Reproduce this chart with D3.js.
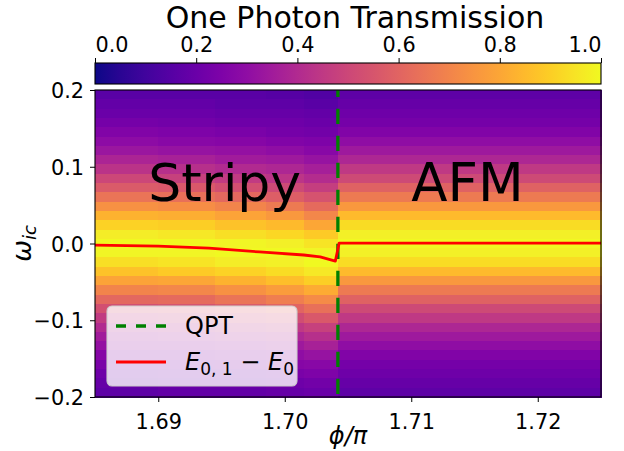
<!DOCTYPE html>
<html lang="en">
<head>
    <meta charset="UTF-8">
    <title>One Photon Transmission</title>
    <script src="https://d3js.org/d3.v7.min.js"></script>
    <style>
        body { margin: 0; background: white; }
        svg { font-family: "DejaVu Sans", sans-serif; }
    </style>
</head>
<body>
    <script>
        const width = 624;
        const height = 451;
        const margin = { top: 90, right: 23, bottom: 54, left: 95 };

        // heatmap: phi column groups and transmission per omega row (top row = +0.2)
        const colEdges = [1.685, 1.690, 1.6945, 1.6985, 1.7015, 1.7042, 1.725];
        const trans1 = [.16,.18,.20,.23,.26,.29,.33,.38,.43,.50,.57,.65,.74,.83,.91,.97,1.00,.99,.94,.87,.79,.70,.61,.53,.46,.40,.35,.31,.27,.24,.21,.19,.17];
        const trans2 = [.16,.18,.20,.22,.25,.28,.32,.37,.42,.48,.56,.64,.73,.82,.90,.96,1.00,.99,.95,.89,.80,.71,.62,.54,.47,.41,.36,.32,.28,.25,.22,.20,.18];
        const trans3 = [.16,.17,.19,.21,.24,.27,.31,.35,.40,.46,.53,.61,.70,.79,.87,.94,.99,1.00,.97,.91,.83,.74,.65,.57,.50,.43,.38,.33,.29,.26,.23,.20,.18];
        const trans4 = [.15,.17,.19,.21,.23,.26,.30,.34,.39,.44,.51,.58,.67,.76,.85,.92,.98,1.00,.98,.93,.86,.77,.68,.60,.52,.45,.39,.34,.30,.27,.24,.21,.19];
        const trans5 = [.14,.16,.18,.20,.22,.25,.28,.32,.36,.41,.47,.54,.62,.71,.80,.89,.95,.99,1.00,.96,.90,.81,.72,.64,.56,.48,.42,.37,.32,.28,.25,.22,.20];
        const transAFM = [.17,.19,.21,.23,.26,.30,.34,.39,.45,.51,.59,.67,.76,.85,.93,.98,1.00,.98,.93,.85,.76,.67,.59,.51,.45,.39,.34,.30,.26,.23,.21,.19,.17];
        const columns = [trans1, trans2, trans3, trans4, trans5, transAFM];

        // E_{0,1} - E_0 curve
        const linePhi = [1.685, 1.690, 1.694, 1.698, 1.7015, 1.7028, 1.7040, 1.7043, 1.7055, 1.725];
        const lineOmega = [-0.002, -0.0035, -0.006, -0.011, -0.015, -0.0175, -0.023, 0.0005, 0.0005, 0.0005];

        const qptPhi = 1.7042;
        const xTicks = [1.69, 1.70, 1.71, 1.72];
        const yTicks = [-0.2, -0.1, 0.0, 0.1, 0.2];
        const cbTicks = [0, 0.2, 0.4, 0.6, 0.8, 1.0];

        const x = d3.scaleLinear().domain([1.685, 1.725]).range([margin.left, width - margin.right]);
        const y = d3.scaleLinear().domain([-0.2, 0.2]).range([height - margin.bottom, margin.top]);
        const color = d3.scaleSequential(d3.interpolatePlasma).domain([0, 1]);

        const svg = d3.select("body").append("svg")
            .attr("width", width)
            .attr("height", height);

        svg.append("clipPath").attr("id", "plot-clip")
            .append("rect")
            .attr("x", margin.left).attr("y", margin.top)
            .attr("width", width - margin.left - margin.right)
            .attr("height", height - margin.top - margin.bottom);

        // heatmap cells
        const nRows = transAFM.length;
        const rowH = 0.4 / nRows;
        const heat = svg.append("g").attr("shape-rendering", "crispEdges");
        columns.forEach((vals, g) => {
            heat.selectAll(null)
                .data(vals)
                .enter().append("rect")
                .attr("x", x(colEdges[g]))
                .attr("width", x(colEdges[g + 1]) - x(colEdges[g]) + 0.5)
                .attr("y", (d, i) => y(0.2 - i * rowH))
                .attr("height", y(0) - y(rowH) + 0.5)
                .attr("fill", d => color(d));
        });

        // QPT line
        svg.append("line")
            .attr("x1", x(qptPhi)).attr("x2", x(qptPhi))
            .attr("y1", y(-0.2)).attr("y2", y(0.2))
            .attr("stroke", "green")
            .attr("stroke-width", 3.3)
            .attr("stroke-dasharray", "15.3,11.7")
            .attr("stroke-dashoffset", 24);

        // energy line
        svg.append("path")
            .datum(linePhi.map((p, i) => [p, lineOmega[i]]))
            .attr("clip-path", "url(#plot-clip)")
            .attr("fill", "none")
            .attr("stroke", "red")
            .attr("stroke-width", 2.8)
            .attr("stroke-linejoin", "round")
            .attr("d", d3.line().x(d => x(d[0])).y(d => y(d[1])));

        // phase labels
        svg.append("text")
            .attr("x", x(1.6892)).attr("y", y(0.056))
            .attr("font-size", 52)
            .text("Stripy");
        svg.append("text")
            .attr("x", x(1.7100)).attr("y", y(0.056))
            .attr("font-size", 53)
            .text("AFM");

        // axes
        const fmt = d => d3.format(".1f")(d).replace("-", "\u2212");
        const xAxis = svg.append("g")
            .attr("transform", `translate(0,${height - margin.bottom})`)
            .call(d3.axisBottom(x).tickValues(xTicks).tickFormat(d3.format(".2f")).tickSize(5).tickSizeOuter(0));
        xAxis.select(".domain").remove();
        xAxis.selectAll("text").attr("font-size", 20.8).attr("font-family", "DejaVu Sans")
            .attr("fill", "black").attr("y", 32).attr("dy", 0);

        const yAxis = svg.append("g")
            .attr("transform", `translate(${margin.left},0)`)
            .call(d3.axisLeft(y).tickValues(yTicks).tickFormat(fmt).tickSize(5).tickSizeOuter(0));
        yAxis.select(".domain").remove();
        yAxis.selectAll("text").attr("font-size", 20.8).attr("font-family", "DejaVu Sans")
            .attr("fill", "black").attr("x", -11).attr("dy", "0.36em");

        svg.append("rect")
            .attr("x", margin.left).attr("y", margin.top)
            .attr("width", width - margin.left - margin.right)
            .attr("height", height - margin.top - margin.bottom)
            .attr("fill", "none").attr("stroke", "black").attr("stroke-width", 1.1);

        // axis labels
        svg.append("text")
            .attr("x", (margin.left + width - margin.right) / 2).attr("y", 444)
            .attr("text-anchor", "middle").attr("font-size", 24).attr("font-style", "italic")
            .text("\u03d5/\u03c0");

        const yl = svg.append("text")
            .attr("transform", `translate(31,${y(0)}) rotate(-90)`)
            .attr("text-anchor", "middle").attr("font-size", 26).attr("font-style", "italic");
        yl.append("tspan").text("\u03c9");
        yl.append("tspan").attr("dy", 5).attr("font-size", 18).text("ic");

        // legend
        const lg = svg.append("g").attr("transform", "translate(107,306)");
        lg.append("rect")
            .attr("width", 190).attr("height", 80).attr("rx", 5)
            .attr("fill", "white").attr("fill-opacity", 0.8)
            .attr("stroke", "#cccccc").attr("stroke-width", 1.1);
        lg.append("line")
            .attr("x1", 9).attr("x2", 59).attr("y1", 20).attr("y2", 20)
            .attr("stroke", "green").attr("stroke-width", 3.3).attr("stroke-dasharray", "10,10");
        lg.append("text").attr("x", 78).attr("y", 28).attr("font-size", 24).text("QPT");
        lg.append("line")
            .attr("x1", 9).attr("x2", 59).attr("y1", 56).attr("y2", 56)
            .attr("stroke", "red").attr("stroke-width", 2.8);
        const lt = lg.append("text").attr("x", 78).attr("y", 64).attr("font-size", 24);
        lt.append("tspan").attr("font-style", "italic").text("E");
        lt.append("tspan").attr("dy", 5).attr("font-size", 17).text("0, 1");
        lt.append("tspan").attr("dy", -5).text(" \u2212 ");
        lt.append("tspan").attr("font-style", "italic").text("E");
        lt.append("tspan").attr("dy", 5).attr("font-size", 17).text("0");

        // colorbar
        const cbX = d3.scaleLinear().domain([0, 1]).range([margin.left, width - margin.right]);
        const grad = svg.append("defs").append("linearGradient").attr("id", "cb-grad");
        d3.range(0, 1.0001, 0.05).forEach(t => {
            grad.append("stop").attr("offset", t).attr("stop-color", color(t));
        });
        svg.append("rect")
            .attr("x", margin.left).attr("y", 63)
            .attr("width", width - margin.left - margin.right).attr("height", 21)
            .attr("fill", "url(#cb-grad)").attr("stroke", "black").attr("stroke-width", 1.1);
        const cbAxis = svg.append("g")
            .attr("transform", "translate(0,63)")
            .call(d3.axisTop(cbX).tickValues(cbTicks).tickFormat(d3.format(".1f")).tickSize(5).tickSizeOuter(0));
        cbAxis.select(".domain").remove();
        cbAxis.selectAll("text").attr("font-size", 20.8).attr("font-family", "DejaVu Sans")
            .attr("fill", "black").attr("y", -11).attr("dy", 0)
            .attr("text-anchor", (d, i) => i === 0 ? "start" : i === cbTicks.length - 1 ? "end" : "middle");

        svg.append("text")
            .attr("x", 355).attr("y", 28)
            .attr("text-anchor", "middle").attr("font-size", 30)
            .text("One Photon Transmission");
    </script>
</body>
</html>
